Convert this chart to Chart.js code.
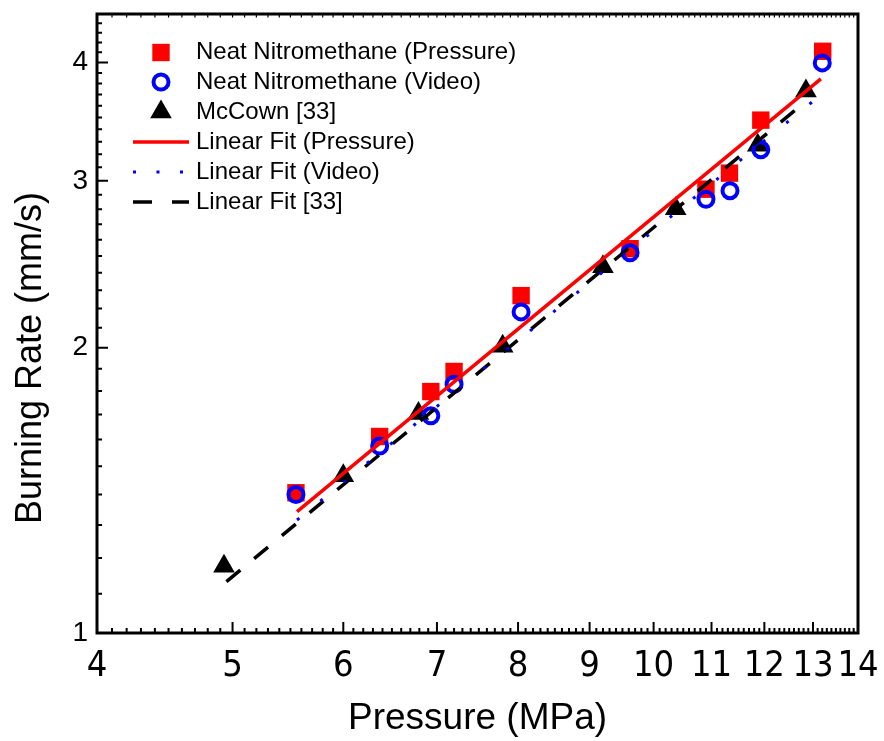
<!DOCTYPE html>
<html>
<head>
<meta charset="utf-8">
<script src="https://cdn.jsdelivr.net/npm/chart.js@4.4.0/dist/chart.umd.min.js"></script>
<style>
  html, body { margin: 0; padding: 0; background: #fff; }
</style>
</head>
<body>
<canvas id="chart" width="884" height="741"></canvas>
<script>
// ---- values ----
const pressureX = [5.55, 6.37, 6.93, 7.20, 8.04, 9.62, 10.90, 11.33, 11.93, 13.21];
const pressureY = [1.406, 1.612, 1.798, 1.888, 2.270, 2.544, 2.940, 3.057, 3.477, 4.110];

const videoX = [5.55, 6.37, 6.93, 7.20, 8.04, 9.62, 10.90, 11.34, 11.93, 13.20];
const videoY = [1.400, 1.575, 1.695, 1.830, 2.182, 2.519, 2.869, 2.929, 3.236, 3.996];

const mccownX = [4.93, 6.00, 6.79, 7.80, 9.20, 10.37, 11.87, 12.85];
const mccownY = [1.176, 1.465, 1.705, 2.007, 2.435, 2.804, 3.271, 3.733];

// fit lines (end points)
const fitPressureX = [5.56, 13.17];
const fitPressureY = [1.343, 3.843];
const fitVideoX = [5.56, 13.17];
const fitVideoY = [1.316, 3.697];
const fitMccownX = [4.95, 12.87];
const fitMccownY = [1.133, 3.647];

const xTickLabels = [4, 5, 6, 7, 8, 9, 10, 11, 12, 13, 14];
const yTickLabels = [1, 2, 3, 4];
const xMin = 4, xMax = 14;
const yMin = 1, yMax = 4.5;

// minor ticks every 0.1 on both axes
function tenths(a, b) {
  const out = [];
  for (let i = Math.round(a * 10); i <= Math.round(b * 10); i++) out.push(i / 10);
  return out;
}
const pts = (xs, ys) => xs.map((v, i) => ({ x: v, y: ys[i] }));

const SANS = "'Liberation Sans', Arial, sans-serif";
const NARROW = "'Liberation Sans Narrow', 'DejaVu Sans Condensed', 'Liberation Sans', sans-serif";

// frame on all four sides + inward ticks
const frameTicks = {
  id: 'frameTicks',
  afterDraw(chart) {
    const { ctx, chartArea: a, scales: { x, y } } = chart;
    ctx.save();
    ctx.strokeStyle = '#000';
    ctx.lineWidth = 2;
    ctx.beginPath();
    x.ticks.forEach(t => {
      const px = x.getPixelForValue(t.value);
      const len = xTickLabels.includes(t.value) ? 11 : 5;
      ctx.moveTo(px, a.bottom);
      ctx.lineTo(px, a.bottom - len);
    });
    y.ticks.forEach(t => {
      const py = y.getPixelForValue(t.value);
      const len = yTickLabels.includes(t.value) ? 11 : 5;
      ctx.moveTo(a.left, py);
      ctx.lineTo(a.left + len, py);
    });
    ctx.stroke();
    ctx.lineWidth = 1.2;
    ctx.beginPath();
    x.ticks.forEach(t => {
      const px = x.getPixelForValue(t.value);
      ctx.moveTo(px, a.top);
      ctx.lineTo(px, a.top + 3.5);
    });
    ctx.stroke();
    ctx.lineWidth = 3;
    ctx.strokeRect(a.left, a.top, a.right - a.left, a.bottom - a.top);
    ctx.restore();
  }
};

// legend drawn in the upper-left of the plot
const legendRows = [52.5, 82, 112, 142, 172, 202];
const plotLegend = {
  id: 'plotLegend',
  afterDraw(chart) {
    const ctx = chart.ctx;
    ctx.save();
    ctx.font = '24px ' + SANS;
    ctx.textBaseline = 'middle';
    ctx.textAlign = 'left';
    chart.data.datasets.forEach((ds, i) => {
      const yy = legendRows[i];
      if (ds.showLine) {
        ctx.strokeStyle = ds.borderColor;
        ctx.lineWidth = ds.borderWidth;
        ctx.setLineDash(ds.legendDash || []);
        ctx.beginPath();
        ctx.moveTo(133, yy);
        ctx.lineTo(189, yy);
        ctx.stroke();
        ctx.setLineDash([]);
      } else {
        ctx.fillStyle = ds.backgroundColor;
        ctx.strokeStyle = ds.borderColor;
        ctx.lineWidth = ds.borderWidth;
        Chart.helpers.drawPoint(ctx, {
          pointStyle: ds.pointStyle, radius: ds.pointRadius,
          borderWidth: ds.borderWidth, rotation: 0
        }, 161, yy);
      }
      ctx.fillStyle = '#000';
      ctx.fillText(ds.label, 196, yy);
    });
    ctx.restore();
  }
};

// y-axis title (sits a little below the centre of the axis in the original)
const yTitle = {
  id: 'yTitle',
  afterDraw(chart) {
    const ctx = chart.ctx;
    ctx.save();
    ctx.translate(31, 358);
    ctx.rotate(-Math.PI / 2);
    ctx.font = '36px ' + SANS;
    ctx.fillStyle = '#000';
    ctx.textAlign = 'center';
    ctx.textBaseline = 'middle';
    ctx.fillText('Burning Rate (mm/s)', 0, 0);
    ctx.restore();
  }
};

new Chart(document.getElementById('chart'), {
  type: 'scatter',
  data: {
    datasets: [
      {
        label: 'Neat Nitromethane (Pressure)', data: pts(pressureX, pressureY),
        pointStyle: 'rect', pointRadius: 12.3, borderWidth: 0,
        backgroundColor: '#ff0000', borderColor: '#ff0000', order: 5
      },
      {
        label: 'Neat Nitromethane (Video)', data: pts(videoX, videoY),
        pointStyle: 'circle', pointRadius: 7.5, borderWidth: 4,
        backgroundColor: 'rgba(0,0,0,0)', borderColor: '#0000ff', order: 4
      },
      {
        label: 'McCown [33]', data: pts(mccownX, mccownY),
        pointStyle: 'triangle', pointRadius: 12.5, borderWidth: 0,
        backgroundColor: '#000000', borderColor: '#000000', order: 6
      },
      {
        label: 'Linear Fit (Pressure)', data: pts(fitPressureX, fitPressureY),
        showLine: true, pointRadius: 0, borderColor: '#ff0000', borderWidth: 3.5, order: 1
      },
      {
        label: 'Linear Fit (Video)', data: pts(fitVideoX, fitVideoY),
        showLine: true, pointRadius: 0, borderColor: '#0000ff', borderWidth: 3,
        borderDash: [3, 27], legendDash: [3, 20.5], order: 2
      },
      {
        label: 'Linear Fit [33]', data: pts(fitMccownX, fitMccownY),
        showLine: true, pointRadius: 0, borderColor: '#000000', borderWidth: 3.5,
        borderDash: [18, 18], legendDash: [19, 20], order: 3
      }
    ]
  },
  options: {
    responsive: false,
    animation: false,
    events: [],
    layout: { padding: { left: 0, right: 26, top: 14, bottom: 0 } },
    plugins: { legend: { display: false }, tooltip: { enabled: false } },
    scales: {
      x: {
        type: 'logarithmic', min: xMin, max: xMax,
        afterBuildTicks: s => { s.ticks = tenths(xMin, xMax).map(v => ({ value: v })); },
        afterFit: s => { s.height = 108; s.paddingLeft = 0; s.paddingRight = 0; },
        grid: { display: false, drawTicks: false },
        border: { display: false },
        ticks: {
          autoSkip: false, maxRotation: 0, padding: 12, color: '#000',
          font: { family: NARROW, size: 36 },
          callback: v => xTickLabels.includes(v) ? String(v) : ''
        },
        title: {
          display: true, text: 'Pressure (MPa)', color: '#000',
          font: { family: SANS, size: 37 }, padding: { top: 0, bottom: 0 }
        }
      },
      y: {
        type: 'logarithmic', min: yMin, max: yMax,
        afterBuildTicks: s => { s.ticks = tenths(yMin, yMax).map(v => ({ value: v })); },
        afterFit: s => { s.width = 97; s.paddingTop = 0; s.paddingBottom = 0; },
        grid: { display: false, drawTicks: false },
        border: { display: false },
        ticks: {
          autoSkip: false, padding: 9, color: '#000',
          font: { family: SANS, size: 28 },
          callback: v => yTickLabels.includes(v) ? String(v) : ''
        }
      }
    }
  },
  plugins: [frameTicks, plotLegend, yTitle]
});
</script>
</body>
</html>
